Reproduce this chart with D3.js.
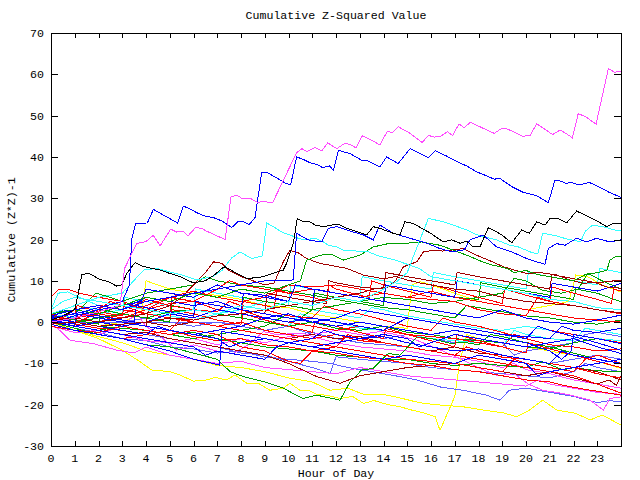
<!DOCTYPE html>
<html><head><meta charset="utf-8">
<script src="https://cdn.jsdelivr.net/npm/d3@7"></script>
<style>
html,body{margin:0;padding:0;background:#fff;}
text{font-family:"Liberation Mono","DejaVu Sans Mono",monospace;font-size:11.6px;fill:#000;}
</style></head>
<body><svg id="c" width="640" height="480"></svg>
<script>
// ---------- data ----------
const title = "Cumulative Z-Squared Value";
const xLabel = "Hour of Day";
const yLabel = "Cumulative (Z*Z)-1";
const xTicks = d3.range(0, 24);            // 0..23
const yTicks = d3.range(-30, 71, 10);      // -30..70
const xDomain = [0, 24];
const yDomain = [-30, 70];

const colRed = "#ff0000", colGreen = "#00a000", colBlue = "#0000ff", colMagenta = "#ff4cff",
      colCyan = "#33ffff", colDarkRed = "#a00000", colYellow = "#ffff00", colBlack = "#000000",
      colSlate = "#6060ff";

// series: [hour, value]
const M1 = [[0,0],[1,1],[2,2.5],[2.9,4],[3.1,13],[3.6,19],[4,19.5],[4.3,21],[4.6,18.5],[5.04,22.5],[5.29,21.8],[5.55,22],[5.77,20.9],[6.09,22.9],[6.34,22.7],[6.56,22],[6.98,20.9],[7.33,20],[7.58,30.3],[7.82,30.7],[8.03,30],[8.38,30],[8.69,29],[8.94,29.2],[9.33,28.9],[10.34,41],[10.56,42],[10.79,41.3],[11.12,42.3],[11.4,41.5],[11.65,43.4],[12.03,42],[12.38,43.3],[12.59,43],[12.84,42.2],[13.11,45.1],[13.57,43.8],[13.85,42.9],[14.16,46.2],[14.37,45.9],[14.62,47.3],[15.12,45.7],[15.63,43.5],[15.89,45.2],[16.14,44.8],[16.38,44.9],[16.69,46.1],[16.91,45.2],[17.18,48],[17.39,47.1],[17.67,48.4],[18.13,47.1],[18.66,45.7],[18.95,46.8],[19.19,46.8],[19.5,46],[19.86,45],[20.17,45.2],[20.45,48],[20.8,46.7],[21.12,45.4],[21.43,46.5],[21.71,45.6],[21.95,44.6],[22.2,50.5],[22.55,49.6],[22.95,47.9],[23.47,61.4],[23.72,60.5],[24,60.7]];
const B1 = [[0,1],[1,2],[2,3.5],[3,5],[3.3,9],[3.4,20],[3.57,23.9],[4.06,24],[4.31,27.3],[4.8,25.7],[5.33,24],[5.57,28.1],[5.82,27.5],[6.2,26.3],[6.48,25.7],[6.84,25.3],[7.19,24.5],[7.61,22.9],[7.89,24.4],[8.1,24.3],[8.34,23.6],[8.59,25.3],[8.87,36.2],[9.11,36.2],[9.5,34.9],[9.85,33.7],[10.09,33.2],[10.34,40],[10.62,39.4],[10.9,38.6],[11.19,38.2],[11.44,37.4],[11.72,37.8],[11.89,36.8],[12.1,41.6],[12.59,40.8],[13.08,39.2],[13.36,39],[13.85,37.6],[14.13,40],[14.62,38.4],[15.12,42],[15.54,40.8],[15.89,39.8],[16.17,41.5],[16.66,40.2],[17.01,39.1],[17.5,37.8],[17.92,36.4],[18.34,35.4],[18.66,34.6],[18.9,34.8],[19.4,32.8],[19.89,31.4],[20.45,30.6],[20.94,28.9],[21.22,34.4],[21.43,34.2],[21.68,33.6],[21.92,33.8],[22.2,33.2],[22.67,33.8],[23.05,32.8],[23.51,31.4],[24,30.2]];
const K1 = [[0,0.5],[0.5,1.5],[1.0,3],[1.15,7],[1.3,11.5],[1.6,11.8],[2.06,10.3],[2.41,9.8],[2.77,8.7],[2.98,9],[3.19,11.8],[3.54,14.4],[3.82,13.6],[4.17,13.1],[4.59,12.6],[4.94,11.9],[5.43,11],[5.99,9.5],[6.5,10],[6.9,11.5],[7.19,13],[7.33,13.4],[7.82,11.8],[8.24,10.6],[8.38,10.6],[8.94,11],[9.36,11.8],[9.78,12.6],[9.92,14.2],[10.2,19],[10.37,25.1],[10.62,24.3],[10.9,24.3],[11.12,23.5],[11.47,23.1],[11.82,23.5],[12.1,23.7],[12.45,22.7],[12.87,21.9],[13.29,21.1],[13.57,23.1],[13.85,22.7],[14.41,21.5],[14.69,21.1],[14.9,24.3],[15.25,23.9],[15.61,22.7],[15.96,21.6],[16.52,19.4],[16.87,19.9],[17.22,19.1],[17.5,19.6],[17.78,18.2],[18.06,18.2],[18.41,22.8],[18.69,22.1],[18.98,21.1],[19.4,19.2],[19.82,22.3],[20.14,21.5],[20.45,24.3],[20.8,23.5],[21.01,25.1],[21.36,25.1],[21.71,24],[22.13,26.9],[22.62,25.5],[23.05,24.3],[23.4,23.1],[23.68,23.9],[24,23.9]];
const B3 = [[0,1.5],[1,3],[2,4],[3,3],[4,5],[5,6],[6,7],[7,8],[8,9],[9,10],[10.2,10.2],[10.34,21.5],[10.83,19.9],[11.4,19.4],[11.68,22.7],[12.03,23.1],[12.45,22.3],[13.15,21.1],[13.57,19.9],[13.85,23.5],[14.41,21.5],[15.0,20.5],[15.82,19.1],[16.38,17.8],[16.9,17],[17.4,17.5],[17.64,19.9],[18.2,21.1],[18.76,18.2],[19.4,17],[20.03,15.4],[20.45,14.6],[20.8,14],[20.94,17.8],[21.29,19],[21.64,18.6],[22.13,20.3],[22.55,19.4],[22.97,20.3],[23.54,19.4],[24,19.9]];
const C1 = [[0,3],[0.5,5],[1,6],[2,5],[3,4],[4,3],[5,2],[6,3],[7,2],[8,4],[9,3],[10,5],[11,4],[12,6],[13,5],[14,8],[14.6,10],[15.0,12],[15.25,15.8],[15.89,25.1],[16.52,24.3],[17.08,23.2],[17.5,22.3],[17.78,21.5],[18.2,20.7],[18.76,19.9],[19.33,18.6],[19.68,18.2],[20.17,17],[20.5,16.5],[20.7,21.5],[21.2,21],[21.8,20],[22.3,19.5],[22.5,22],[22.8,23.5],[23.3,23],[23.75,22.3],[24,22.3]];
const C2 = [[0,2],[1,4],[2,6],[3,7],[3.9,12.6],[4.45,13],[5.5,11.4],[6.13,10.2],[6.8,11],[7.2,12.5],[7.6,15.5],[7.96,17],[8.45,15.4],[8.9,16],[9.08,24],[9.36,23.1],[9.78,21.6],[10.06,21.1],[10.41,20.3],[10.69,19.9],[11.12,20.3],[11.47,19.4],[11.68,18.6],[12.03,18.2],[12.31,17.4],[12.66,17.4],[13.01,17],[13.36,17],[13.8,16],[14.5,15],[15,14],[15.5,13],[16,11],[16.5,10.5],[17,10],[18,9],[19,8],[20,7],[21,5.5],[22,5],[23,3.5],[24,3]];
const G1 = [[0,2],[1,3],[2,2],[3,4],[4,6],[5,5],[6,7],[7,6],[8,8],[9,7],[10,9],[10.5,10],[10.76,15],[11.33,16.2],[11.8,16.5],[12.3,15],[13.01,16.2],[13.57,18.2],[14.2,19],[14.97,19.1],[15.61,19.4],[16.38,18.6],[16.9,17.5],[17.6,16],[18.2,14.5],[18.6,13.8],[19.2,13],[19.5,12],[20,12.5],[20.5,11.5],[21,11],[21.5,10.5],[22,10],[22.5,11.5],[23,12],[23.4,12.5],[23.54,15],[23.75,15.8],[24,15.8]];
const DR1 = [[0,0.5],[1,1],[2,0],[3,1],[4,2],[5,4],[5.5,6],[6,9],[6.5,12],[6.84,14.6],[7.2,14.2],[7.5,12.5],[8,11],[8.5,10],[9,9],[9.4,9.5],[9.78,14.6],[10.06,17.4],[10.4,16.8],[10.76,15.4],[11.33,14.2],[12,13.5],[12.45,13],[13.15,11.4],[13.5,11],[14,10.5],[14.5,11],[15,10.2],[15.5,9.5],[16,9],[17,8],[18,7.5],[19,6],[20,5],[21,4.5],[22,4],[23,3],[24,2.2]];
const DR2 = [[0,-0.5],[1,0],[2,-1],[3,-0.5],[4,0],[5,1],[6,0.5],[7,1.5],[8,2],[9,3],[10,4],[11,5],[12,6],[13,7],[13.6,8],[14.2,8.5],[14.5,10],[14.84,13.4],[15.4,14.6],[15.68,17],[16.1,17.4],[16.5,17.2],[17.36,17.8],[17.92,16.2],[18.5,14.8],[19.05,13.4],[19.5,12.6],[20.03,11.8],[20.6,12],[21.29,11.4],[21.85,10.2],[22.41,9.4],[22.9,9.6],[23.4,8.5],[24,8.2]];
const DR5 = [[0,0],[1,-1],[1.1,2],[2,1],[3,0],[4,-1],[4.1,3],[5,2],[6,1],[6.1,5],[7,4],[8,3],[9,2],[9.1,7],[10,6],[11,5],[11.6,4.5],[11.7,10],[12,9.5],[13,8.5],[14,8],[14.1,12],[15,11],[16,10],[17,9],[17.1,12],[18,11],[19,10],[20,9],[21,8],[21.1,11.5],[22,10.5],[23,9.5],[24,10.2]];
const R1 = [[0,6],[0.3,7.8],[0.7,8],[1.2,7],[2,6],[3,5],[3.5,4],[4,5.5],[5,4],[6,3],[7,2.5],[7.5,5],[8,4],[9,3],[10,1.5],[11,1],[11.5,4],[12,3],[13,2],[14,0.5],[15,-1],[16,-2],[16.5,1],[17,0],[18,-1],[19,-2.5],[20,-4],[20.5,-1],[21,-2],[22,-3],[23,-4],[24,-5]];
const C3 = [[0,3],[0.3,7],[0.7,7.3],[1.2,6],[2,4],[3,3],[4,2],[5,1.5],[6,0.5],[7,2],[8,1],[9,0],[10,-1],[10.5,2],[11,1],[12,0],[13,-1.5],[14,-2],[15,-3],[16,-4],[17,-4.5],[18,-5],[19,-6],[19.5,-2],[20,-3],[21,-4],[22,-4.5],[22.5,-1.5],[23,-2],[24,-3]];
const C5 = [[0,2],[1,1],[1.1,4],[2,3],[3,2],[3.1,6],[4,5],[5,4],[6,3],[6.1,8],[7,7],[8,6],[9,5],[10,4],[10.1,9],[11,8],[12,7],[13,6],[13.1,11],[14,10],[15,9],[16,8],[16.1,12],[17,11],[18,10],[19,9],[20,8],[20.1,12],[21,11],[22,10],[23,9],[23.1,13],[24,12]];
const Y1 = [[0,0],[1,-2],[2,-4],[3,-6.8],[3.75,-9.6],[4.24,-11.6],[5,-12],[5.43,-12.8],[5.99,-14.3],[6.56,-14],[6.9,-13.4],[7.4,-14],[7.75,-12.8],[8.24,-14.8],[8.73,-14.8],[9.22,-16.5],[9.78,-16],[10.06,-14.8],[10.48,-16.5],[10.83,-16.5],[11.19,-17.5],[11.6,-17.7],[12.17,-18.5],[12.7,-18],[13.16,-19.7],[13.6,-19],[14.2,-20],[14.7,-20.5],[15.19,-21.3],[15.7,-22],[16.17,-22.9],[16.38,-26.2],[16.7,-22],[17.0,-18],[17.2,-10],[17.5,-3],[18,-4],[19,-5],[20,-6],[21,-7],[22,-8],[23,-9.5],[24,-11.2]];
const Y2 = [[0,-0.5],[1,-2],[2,-3.5],[3,-5],[4,-7],[5,-8],[6,-9],[7,-10.5],[8,-11],[9,-12],[10,-13.5],[11,-14.5],[11.75,-16.5],[12.5,-16],[13.16,-17.5],[14,-17.5],[14.8,-18.5],[15.5,-19.5],[16.2,-20],[17.35,-20.5],[18.2,-21.3],[19.05,-22],[19.6,-22.9],[20.1,-21.5],[20.7,-18.9],[21.3,-21.3],[22.1,-22.1],[22.7,-23.7],[23.2,-22.5],[24,-24.9]];
const Y3 = [[0,1],[1,0],[2,-1],[3,0],[3.8,2],[4.0,10],[4.5,9],[5,8],[6,7],[7,6.5],[8,5.5],[9,4],[10,3.5],[11,2],[12,1],[13,0],[14,-1],[15,-1.5],[15.2,9],[15.54,9.8],[16,9],[17,7],[18,5],[19,4],[20,3],[21,4],[21.8,5],[22.1,11.4],[22.6,11],[23.2,9],[24,7.3]];
const G2 = [[0,0],[1,-1.5],[2,-3],[3,-4],[4,-5.5],[5,-6],[6,-7.5],[7,-9],[7.54,-12],[8.1,-13.2],[9,-14.5],[9.78,-16],[10.6,-18.5],[11.19,-17.7],[12.17,-18.9],[12.59,-14.5],[13.08,-11.6],[13.57,-11.2],[14.2,-7.6],[14.7,-8],[15.4,-3.6],[16,-4],[16.8,-5.1],[17.5,-5],[18,-5.5],[18.5,-3],[19,-3.5],[20,-5],[21,-6],[22,-7.5],[23,-9],[24,-10]];
const G3 = [[0,1],[1,0],[2,-1],[3,-1.5],[4,-2],[5,-3],[6,-2.5],[7,-4],[8,-5],[9,-6],[10,-6.5],[11,-7],[12,-8],[13,-8.5],[14,-9],[15,-9],[16,-10],[17,-10.5],[18,-10],[19,-10.5],[20,-11],[20.7,-9.6],[21.57,-11.6],[22,-11],[23,-11.8],[24,-12]];
const G7 = [[0,1.5],[1,0.5],[2,-0.5],[2.1,3],[3,2],[4,1],[5,0],[5.1,4],[6,3],[7,2],[8,1],[8.1,6],[9,5],[10,4],[11,3],[11.1,7],[12,6],[13,5],[14,4],[14.1,9],[15,8],[16,7],[17,6],[18,5.5],[18.1,9.5],[19,8.5],[20,7.5],[21,6.5],[22,5.5],[22.1,8],[23,7],[24,4.9]];
const M2 = [[0,-1],[1,-2.5],[2,-2],[3,-3],[4,-4.5],[5,-5],[6,-4],[7,-5.5],[8,-4],[9,-5],[10,-3.5],[11,-3],[12,-2],[13,-3],[13.85,-2.3],[14.5,-3],[15.4,-4.4],[16.3,-6.5],[17.36,-9.2],[18.06,-11.2],[18.8,-13],[19.5,-12.5],[20.1,-15],[20.7,-16.5],[21.57,-17.3],[22.1,-18],[22.7,-18.9],[23.26,-21.3],[23.54,-18.5],[24,-18.1]];
const M3 = [[0,-0.5],[1,-2],[2,-3],[3,-1],[3.6,2.1],[4,-1],[4.5,-3],[5.3,-6.8],[6,-5.5],[7,-7],[7.68,-7.6],[8.38,-5.2],[8.94,-2.3],[9.5,-3],[10.6,-2.7],[11.3,-4],[12,-5],[13,-6],[14,-6.5],[15,-7],[16,-8],[17,-8.5],[18,-9.5],[19,-11],[19.5,-10],[20,-11.5],[21,-12.5],[22,-14],[23,-15],[24,-16]];
const M4 = [[0,0],[0.8,-4.4],[1.78,-5.2],[2.77,-6.8],[3.5,-7.5],[4,-6],[5,-8],[6,-9],[7,-10],[8,-9.5],[9,-11],[10,-11.5],[11,-12],[12,-12.5],[13,-11],[14,-12],[15,-13],[16,-13.5],[17,-14],[18,-14.5],[19,-15],[20,-15.5],[20.5,-14],[21,-15],[22,-16],[23,-17],[24,-17.5]];
const R2 = [[0,0.5],[1,-0.5],[2,-1.5],[3,-2],[4,-3],[5,-2],[6,-3.5],[7,-4.5],[8,-4],[9,-5.5],[10,-6],[11,-7],[12,-7.5],[13,-8.5],[14,-9],[15,-10],[16,-10.5],[17,-11.5],[18,-12],[19,-13],[20,-14],[21,-14.5],[21.57,-15.3],[22.5,-16.3],[23.3,-17],[24,-17.7]];
const R3 = [[0,1],[1,2],[1.1,4],[2,2.5],[3,1.5],[3.1,4.5],[4,3],[5,2],[5.1,6],[6,5],[6.5,4],[7,3],[8,2],[8.1,5],[9,4],[9.4,3.5],[9.5,8],[10,7],[11,6],[11.6,5],[11.7,9],[12,8],[13,6.5],[13.4,6],[13.5,10],[14,9],[15,7.5],[16,6],[16.1,9],[17,7.5],[18,6],[19,4.5],[19.1,8],[20,6.5],[21,5],[21.1,8.5],[22,7],[23,5.5],[23.6,4.5],[23.7,8],[24,7.5]];
const R4 = [[0,-1],[1,-2],[2,-2.5],[3,-1],[4,-2],[5,-3],[6,-2],[7,-3],[8,-6],[9,-7],[10,-9.5],[10.5,-10],[11,-7],[12,-6],[13,-7],[14,-8],[15,-9],[16,-9.5],[17,-10],[18,-11],[19,-12],[19.5,-9],[20,-10],[21,-11],[22,-12],[22.5,-9],[23,-8],[24,-10]];
const R5 = [[0,2],[0.5,1],[1,3],[2,2],[3,4],[4,3],[5,6],[6,5],[7,8],[7.5,10],[8,9],[9,8],[10,7],[11,8],[12,7],[13,6],[14,7],[15,6],[16,5.5],[17,5],[18,3],[19,2],[20,1.5],[20.5,6],[21,5],[22,4],[23,3],[24,2]];
const R6 = [[0,1.5],[1,0],[2,2],[3,1],[4,3],[5,4.5],[6,5],[7,4],[8,3],[9,1],[10,0],[11,-1],[12,-2],[13,-1],[14,-2],[15,-3],[16,-3.5],[17,-4],[18,-5],[19,-6],[19.5,-3],[20,-4],[21,-5.5],[22,-6],[23,-7],[24,-6.5]];
const R7 = [[0,0],[1,1],[2,3],[2.5,5],[3,4],[4,2],[5,1],[6,0],[7,-1],[8,0],[9,-2],[10,-3],[11,-4],[12,-3],[13,-4.5],[14,-5],[15,-6],[16,-7],[17,-8],[18,-9],[19,-10],[20,-11],[21,-12],[22,-13],[23,-15],[24,-17.2]];
const R8 = [[0,0.5],[1,-1],[2,0],[3,2],[4,4],[5,6],[6,7.5],[7,6],[8,5],[9,6],[10,9],[11,8.5],[12,9],[13,8],[14,7],[15,6],[16,7.5],[17,6],[18,5],[19,4],[20,3],[21,2],[22,1],[23,0.5],[24,0]];
const R9 = [[0,-1],[1,-2],[2,-3],[3,-4],[4,-3],[5,-2],[5.5,1],[6,0],[7,-1],[8,-2],[9,-3],[10,-4],[11,-5],[12,-6],[12.5,-3],[13,-4],[14,-5],[15,-6],[16,-7],[17,-8],[17.5,-6],[18,-7],[19,-8.5],[20,-9],[21,-10],[22,-11],[23,-12.5],[24,-13.5]];
const R10 = [[0,0],[1,1],[2,2],[2.1,4],[3,3],[4,2],[5,1],[5.1,3],[6,2],[7,0.5],[8,-0.5],[8.1,2],[9,0.5],[10,-1],[11,-2.5],[11.1,0],[12,-1],[13,-2.5],[14,-4],[14.1,-1.5],[15,-3],[16,-4.5],[17,-6],[17.1,-3],[18,-4.5],[19,-6],[20,-7.5],[20.1,-5],[21,-6.5],[22,-8],[23,-9.5],[24,-11]];
const B4 = [[0,1],[0.5,3],[1,2],[2,1],[3,0],[4,-1],[5,-2],[6,-3],[7,-4],[7.5,-6],[8,-5],[9,-4],[10,-5],[11,-6],[12,-5],[13,-4],[14,-3],[15,-4],[15.5,-6],[16,-5],[17,-3],[18,-4],[19,-5],[20,-6],[21,-5],[22,-4],[23,-6],[24,-7.6]];
const B5 = [[0,-0.5],[1,-2],[2,-3],[3,-4],[4,-5.5],[5,-7],[5.5,-8],[6,-9],[6.8,-10],[7.1,-10.4],[7.2,-2.3],[8,-3],[9,-4],[10,-5],[11,-4],[11.5,-2],[12,-3],[13,-4],[14,-3.5],[15,-5],[16,-6],[17,-7],[18,-6.5],[19,-8],[20,-9],[21,-10],[21.5,-7],[22,-8],[23,-9],[24,-10]];
const B6 = [[0,2],[1,3],[2,4],[3,3],[4,6],[5,5],[6,4],[7,5],[8,3],[9,2],[10,1],[11,0],[12,1],[13,3],[14,2],[15,1],[16,0],[17,-1],[18,-2],[19,-3],[20,-4],[20.5,-1],[21,-2],[22,-3.5],[23,-5],[24,-6.8]];
const B7 = [[0,0],[1,1.5],[2,3],[3,4],[3.8,5],[4,8],[5,7],[6,6],[7,9],[7.5,8],[8,7],[9,6.5],[10,5],[10.3,9],[11,8],[12,7],[13,6],[14,5],[15,4],[16,3],[17,2],[18,1],[19,3],[19.5,2],[20,1],[21,0],[22,-0.5],[23,0.5],[24,1.7]];
const B8 = [[0,1],[1,0],[2,-1],[3,-2],[4,-3],[4.5,-1],[5,-2],[6,-3],[7,-2],[8,-1],[9,1],[10,0],[11,1],[12,0],[13,-1],[14,-2],[15,1],[16,0],[17,-1],[18,-2],[19,-3],[20,-3.5],[21,-4],[21.5,-1],[22,-2],[23,-2.5],[24,-1.5]];
const B9 = [[0,0.5],[1,-1],[2,0],[3,-1],[4,0],[5,2],[6,1],[7,3],[8,2],[9,1],[10,2],[11,0],[12,-1],[13,0],[14,-1],[15,-2],[16,-3],[17,-2],[18,-3],[19,-4],[20,-5],[21,-7],[21.5,-9],[21.9,-7],[22,-3],[23,-4],[24,-5.2]];
const B10 = [[0,0],[1,-1],[2,-2],[3,-3],[4,-4],[5,-5],[6,-6],[6.5,-8],[7,-7],[8,-8],[9,-9],[9.5,-6],[10,-5],[11,-6],[12,-7],[13,-8],[14,-9],[15,-8],[16,-9],[17,-10],[18,-8],[19,-9],[20,-10],[20.5,-13],[21,-12],[22,-11],[23,-10],[24,-9]];
const B11 = [[0,0.5],[1,-0.5],[1.1,2.5],[2,1.5],[3,0.5],[3.5,0],[3.6,4],[4,3.5],[5,2.5],[6,1.5],[6.1,5],[7,4],[8,3],[8.1,7],[9,6],[10,5],[11,4],[11.1,8],[12,7],[13,6],[14,5],[14.1,9],[15,8],[16,7],[17,6],[17.1,10],[18,9],[19,8],[20,7],[21,6],[21.1,9.4],[22,8.5],[23,7.5],[24,9.4]];
const SB1 = [[0,0],[1,-1.5],[2,-2.5],[3,-4],[4,-4.5],[5,-6],[6,-6.5],[7,-7.5],[8,-7],[9,-8.5],[10,-9],[11,-9.5],[11.75,-10],[12.5,-11],[13.5,-12],[14.5,-13],[15.4,-14],[16.38,-15.7],[17.35,-16.5],[18.34,-17.7],[18.9,-18.9],[19.3,-16.5],[20,-16],[21,-17],[22,-18],[23,-19.5],[23.5,-19],[24,-19.3]];
const SB2 = [[0,0.5],[1,-0.5],[2,-1.5],[3,-2],[4,-3],[5,-4],[6,-5],[7,-6],[8,-7.5],[9,-8],[10,-9.5],[11,-11],[11.75,-12.4],[12,-8.4],[13,-9],[14,-9.5],[15,-10],[16,-11],[17,-11.5],[18,-12],[19,-12.5],[20,-13],[21,-13.5],[22,-12],[22.5,-10],[23,-11],[24,-12]];
const SB3 = [[0,0.5],[0.6,-0.2],[7.3,-0.2],[8,-1],[9,-2],[10,-3],[11,-2.5],[12,-4],[13,-5],[14,-5.5],[15,-6],[16,-7],[17,-6],[18,-7.5],[19,-8],[20,-9],[21,-10],[22,-9],[23,-8],[24,-9]];
const SB4 = [[0,1],[1,2],[2,1],[3,0],[4,1],[5,0],[6,-1],[7,0],[8,-1],[9,-2],[10,-1],[11,-3],[12,-2],[13,-3],[14,-4],[15,-3],[16,-4],[17,-5],[18,-4],[19,-5],[19.5,-8],[20,-7],[21,-6],[22,-5],[22.5,-3],[23,-2.5],[24,-3.5]];
const G4 = [[0,1],[1,2],[1.9,7],[2.5,6],[3,5],[4,7],[5,8],[6,9],[6.5,11],[7,10],[8,9],[9,8.5],[10,7.5],[11,6.5],[12,5.5],[13,4.5],[14,3.5],[15,3],[16,2],[17,1],[17.5,4],[18,3.5],[19,2.5],[20,1.5],[21,1],[22,0],[23,-0.5],[24,0.5]];
const G5 = [[0,-0.5],[1,0],[2,1],[3,2],[4,1],[5,2.5],[6,3],[7,2],[8,1],[9,0],[10,-1],[11,0],[12,-1.5],[13,-2],[14,-1],[15,-2.5],[16,-3],[17,-4],[18,-4.5],[19,-5],[20,-6],[21,-6.5],[22,-5],[23,-4],[24,-5]];
const G6 = [[0,0.5],[1,-1],[2,-2],[3,-1],[4,-2],[5,-3],[6,-4],[7,-3],[8,-2],[9,-1],[10,2],[10.5,1],[11,3],[12,4],[13,5],[14,6],[15,5.5],[16,4.5],[17,5],[18,6],[19,7],[19.5,10.6],[20,10],[20.7,7.7],[21.5,7],[22.2,8],[22.6,11.8],[23.2,10],[24,8]];
const DR3 = [[0,0],[1,-1],[2,-2],[3,-3],[4,-2.5],[5,-4],[6,-5],[7,-6],[8,-7],[9,-8],[10,-10],[11.19,-13.2],[12.17,-14.8],[13,-13],[14,-12],[15,-11],[16,-10.5],[17,-10],[18,-11],[19,-12],[20,-13],[21,-12],[22,-13.5],[23,-15],[23.5,-14],[23.8,-15.3],[24,-13]];
const DR4 = [[0,0.5],[1,1],[2,0],[3,-1],[4,0],[5,-1],[6,0],[7,-1],[8,-2],[9,-3],[10,-4],[11,-3],[12,-4],[13,-3.5],[14,-5],[15,-6],[16,-7],[17,-6],[18,-7.5],[19,-8],[20,-9],[21,-10],[22,-11],[23,-12],[24,-14]];
const C4 = [[0,1.5],[1,3],[2,2],[3,3],[4,2],[5,4],[6,3],[7,2],[8,3],[9,5],[10,4],[11,3],[12,2],[13,1],[13.5,3.5],[14,3],[15,1.5],[16,0.5],[17,-0.5],[18,-1.5],[19,-2],[20,-1],[21,-2],[22,-3],[23,-4],[24,-4.5]];

const seriesList = [
  {data:Y1,color:colYellow},{data:Y2,color:colYellow},{data:Y3,color:colYellow},
  {data:SB1,color:colSlate},{data:SB2,color:colSlate},{data:SB3,color:colSlate},{data:SB4,color:colSlate},
  {data:M2,color:colMagenta},{data:M3,color:colMagenta},{data:M4,color:colMagenta},
  {data:C3,color:colCyan},{data:C4,color:colCyan},{data:C5,color:colCyan},
  {data:G2,color:colGreen},{data:G3,color:colGreen},{data:G4,color:colGreen},{data:G5,color:colGreen},{data:G6,color:colGreen},{data:G7,color:colGreen},
  {data:DR3,color:colDarkRed},{data:DR4,color:colDarkRed},{data:DR5,color:colDarkRed},
  {data:R1,color:colRed},{data:R2,color:colRed},{data:R3,color:colRed},{data:R4,color:colRed},{data:R5,color:colRed},
  {data:R6,color:colRed},{data:R7,color:colRed},{data:R8,color:colRed},{data:R9,color:colRed},{data:R10,color:colRed},
  {data:B4,color:colBlue},{data:B5,color:colBlue},{data:B6,color:colBlue},{data:B7,color:colBlue},{data:B8,color:colBlue},
  {data:B9,color:colBlue},{data:B10,color:colBlue},{data:B11,color:colBlue},
  {data:DR1,color:colDarkRed},{data:DR2,color:colDarkRed},
  {data:G1,color:colGreen},{data:C2,color:colCyan},{data:C1,color:colCyan},
  {data:B3,color:colBlue},{data:K1,color:colBlack},{data:B1,color:colBlue},{data:M1,color:colMagenta}
];

// ---------- drawing ----------
const L = 51, R = 621, T = 33, B = 446;
const svg = d3.select("#c");
const x = d3.scaleLinear().domain(xDomain).range([L, R]);
const y = d3.scaleLinear().domain(yDomain).range([B, T]);

svg.append("defs").append("clipPath").attr("id","clip")
  .append("rect").attr("x",L).attr("y",T).attr("width",R-L+1).attr("height",B-T+1);

const line = d3.line().x(d => x(d[0])).y(d => y(d[1]));
const g = svg.append("g").attr("clip-path","url(#clip)");
seriesList.forEach(s => {
  g.append("path").attr("d", line(s.data)).attr("fill","none")
    .attr("stroke", s.color).attr("stroke-width",1)
    .attr("shape-rendering","crispEdges");
});

// frame & ticks
const ax = svg.append("g").attr("stroke","#000").attr("stroke-width",1).attr("shape-rendering","crispEdges");
ax.append("rect").attr("x",L+0.5).attr("y",T+0.5).attr("width",R-L).attr("height",B-T).attr("fill","none");
const px = v => Math.round(x(v)) + 0.5;
const py = v => Math.round(y(v)) + 0.5;
xTicks.forEach(t => {
  ax.append("line").attr("x1",px(t)).attr("x2",px(t)).attr("y1",B).attr("y2",B-5);
  ax.append("line").attr("x1",px(t)).attr("x2",px(t)).attr("y1",T).attr("y2",T+5);
});
yTicks.forEach(t => {
  ax.append("line").attr("x1",L).attr("x2",L+7).attr("y1",py(t)).attr("y2",py(t));
  ax.append("line").attr("x1",R).attr("x2",R-7).attr("y1",py(t)).attr("y2",py(t));
});

// labels
xTicks.forEach(t => {
  svg.append("text").attr("x",x(t)).attr("y",462).attr("text-anchor","middle").text(String(t));
});
yTicks.forEach(t => {
  svg.append("text").attr("x",44).attr("y",y(t)+4).attr("text-anchor","end").text(String(t));
});
svg.append("text").attr("x",(L+R)/2).attr("y",19).attr("text-anchor","middle").text(title);
svg.append("text").attr("x",(L+R)/2).attr("y",477).attr("text-anchor","middle").text(xLabel);
svg.append("text").attr("transform","translate(15,240) rotate(-90)").attr("text-anchor","middle").text(yLabel);
</script></body></html>
